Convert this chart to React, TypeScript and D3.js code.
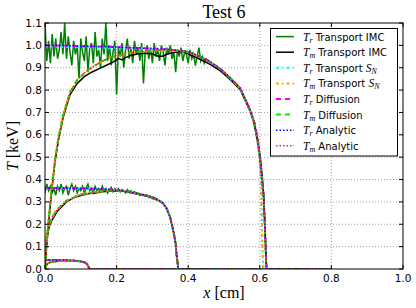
import { useEffect, useRef } from "react"
import * as d3 from "d3"

type Pt = [number, number]

const xTicks = [0, 0.2, 0.4, 0.6, 0.8, 1.0]
const yTicks = [0, 0.1, 0.2, 0.3, 0.4, 0.5, 0.6, 0.7, 0.8, 0.9, 1.0, 1.1]

// analytic / diffusion profiles (x [cm], T [keV])
const trLate: Pt[] = [
  [0, 1.0], [0.05, 0.999], [0.1, 0.997], [0.15, 0.995], [0.2, 0.992], [0.25, 0.989], [0.3, 0.986],
  [0.35, 0.981], [0.4, 0.972], [0.433, 0.949], [0.46, 0.928], [0.49, 0.895], [0.517, 0.855],
  [0.545, 0.81], [0.573, 0.71], [0.585, 0.655], [0.595, 0.575], [0.6, 0.5], [0.605, 0.42],
  [0.61, 0.34], [0.614, 0.2], [0.617, 0.06], [0.619, 0], [0.8, 0],
]
const tmLate: Pt[] = [
  [0, 0], [0.004, 0.1], [0.01, 0.22], [0.018, 0.35], [0.028, 0.49], [0.038, 0.59], [0.051, 0.69],
  [0.07, 0.79], [0.09, 0.845], [0.118, 0.888], [0.15, 0.92], [0.18, 0.945], [0.23, 0.965],
  [0.28, 0.975], [0.32, 0.979], [0.35, 0.98], [0.4, 0.972], [0.433, 0.949], [0.46, 0.928],
  [0.49, 0.895], [0.517, 0.855], [0.545, 0.81], [0.573, 0.71], [0.585, 0.655], [0.595, 0.575],
  [0.6, 0.5], [0.605, 0.42], [0.61, 0.34], [0.614, 0.2], [0.617, 0.06], [0.619, 0], [0.8, 0],
]
const trMid: Pt[] = [
  [0, 0.362], [0.05, 0.362], [0.1, 0.361], [0.15, 0.358], [0.2, 0.353], [0.25, 0.34], [0.293, 0.325],
  [0.31, 0.315], [0.33, 0.294], [0.34, 0.27], [0.349, 0.234], [0.358, 0.174], [0.365, 0.115],
  [0.368, 0.055], [0.371, 0.02], [0.372, 0], [0.8, 0],
]
const tmMid: Pt[] = [
  [0, 0], [0.002, 0.08], [0.005, 0.15], [0.012, 0.2], [0.02, 0.23], [0.033, 0.264], [0.06, 0.305],
  [0.098, 0.333], [0.135, 0.343], [0.17, 0.349], [0.2, 0.352], [0.25, 0.34], [0.293, 0.325],
  [0.31, 0.315], [0.33, 0.294], [0.34, 0.27], [0.349, 0.234], [0.358, 0.174], [0.365, 0.115],
  [0.368, 0.055], [0.371, 0.02], [0.372, 0], [0.8, 0],
]
const trEarly: Pt[] = [
  [0, 0.04], [0.05, 0.04], [0.08, 0.038], [0.1, 0.034], [0.11, 0.03], [0.116, 0.024], [0.12, 0.015],
  [0.124, 0], [0.8, 0],
]
const tmEarly: Pt[] = [
  [0, 0], [0.003, 0.015], [0.008, 0.025], [0.015, 0.03], [0.03, 0.034], [0.05, 0.037], [0.08, 0.037],
  [0.1, 0.034], [0.11, 0.03], [0.116, 0.024], [0.12, 0.015], [0.124, 0], [0.8, 0],
]

// transport S_N, late time (front sits a little earlier)
const snTrLate: Pt[] = [
  [0, 0.996], [0.05, 0.993], [0.1, 0.991], [0.15, 0.99], [0.2, 0.989], [0.25, 0.987], [0.3, 0.984],
  [0.35, 0.98], [0.4, 0.971], [0.433, 0.948], [0.46, 0.927], [0.49, 0.894], [0.517, 0.854],
  [0.545, 0.808], [0.573, 0.708], [0.585, 0.65], [0.595, 0.565], [0.6, 0.48], [0.603, 0.38],
  [0.606, 0.2], [0.608, 0.05], [0.61, 0], [0.8, 0],
]
const snTmLate: Pt[] = [
  [0, 0], [0.004, 0.1], [0.01, 0.22], [0.018, 0.35], [0.028, 0.49], [0.038, 0.59], [0.051, 0.69],
  [0.07, 0.79], [0.09, 0.845], [0.118, 0.888], [0.15, 0.92], [0.18, 0.945], [0.23, 0.964],
  [0.28, 0.973], [0.32, 0.977], [0.35, 0.979], [0.4, 0.971], [0.433, 0.948], [0.46, 0.927],
  [0.49, 0.894], [0.517, 0.854], [0.545, 0.808], [0.573, 0.708], [0.585, 0.65], [0.595, 0.565],
  [0.6, 0.48], [0.603, 0.38], [0.606, 0.2], [0.608, 0.05], [0.61, 0], [0.8, 0],
]

// transport IMC: noisy radiation temperature, one value per 0.005 cm cell
const imcStep = 0.005
const imcTrLateNoisy = [
  1.1, 0.93, 1.02, 0.92, 1.05, 0.95, 1.03, 0.94, 0.98, 1.06, 0.96, 1.1, 0.94, 1.04, 0.97, 0.91,
  1.02, 0.96, 1.0, 0.85, 1.03, 0.97, 0.93, 1.04, 0.88, 0.99, 1.01, 0.92, 1.06, 0.95, 0.98, 0.9,
  1.03, 0.96, 1.1, 0.93, 1.0, 0.91, 0.97, 1.02, 0.78, 0.99, 0.95, 1.01, 0.9, 0.98, 1.03, 0.94,
  0.99, 0.92, 1.02, 0.96, 0.99, 0.93, 1.01, 0.83, 0.97, 1.0, 0.94, 0.99, 0.92, 1.01, 0.95, 0.98,
  0.93, 1.0, 0.97, 0.91, 0.99, 0.96, 1.0, 0.94, 0.97, 0.88, 0.98, 0.95, 0.99, 0.93, 0.97, 0.96,
  0.92, 0.98, 0.94, 0.96, 0.91, 0.95, 0.99, 0.93, 0.95, 0.92,
]
const imcTrLateTail: Pt[] = [
  [0.45, 0.94], [0.46, 0.925], [0.47, 0.915], [0.48, 0.9], [0.49, 0.89], [0.5, 0.878], [0.51, 0.865],
  [0.52, 0.848], [0.53, 0.835], [0.54, 0.818], [0.55, 0.79], [0.56, 0.76], [0.57, 0.725],
  [0.58, 0.68], [0.59, 0.6], [0.6, 0.5], [0.605, 0.42], [0.61, 0.34], [0.614, 0.2], [0.617, 0.06],
  [0.619, 0], [0.8, 0],
]
const imcTmLate: Pt[] = [
  [0, 0], [0.004, 0.09], [0.01, 0.2], [0.018, 0.34], [0.028, 0.48], [0.038, 0.58], [0.051, 0.68],
  [0.07, 0.78], [0.09, 0.83], [0.11, 0.86], [0.13, 0.88], [0.15, 0.895], [0.17, 0.91], [0.19, 0.925],
  [0.2, 0.935], [0.205, 0.942], [0.215, 0.935], [0.225, 0.945], [0.24, 0.955], [0.26, 0.962],
  [0.28, 0.965], [0.3, 0.962], [0.31, 0.955], [0.32, 0.95], [0.33, 0.952], [0.34, 0.96],
  [0.36, 0.968], [0.38, 0.972], [0.39, 0.97], [0.4, 0.962], [0.433, 0.938], [0.46, 0.916],
  [0.49, 0.886], [0.517, 0.848], [0.545, 0.803], [0.573, 0.705], [0.585, 0.645], [0.595, 0.565],
  [0.602, 0.49], [0.607, 0.41], [0.611, 0.33], [0.615, 0.17], [0.619, 0], [0.8, 0],
]
const imcTrMidNoisy = [
  0.34, 0.38, 0.35, 0.37, 0.34, 0.36, 0.33, 0.37, 0.35, 0.38, 0.34, 0.36, 0.37, 0.33, 0.36, 0.38,
  0.35, 0.37, 0.34, 0.36, 0.35, 0.37, 0.34, 0.36, 0.38, 0.35, 0.36, 0.34, 0.37, 0.35, 0.36, 0.345,
  0.37, 0.35, 0.36, 0.34, 0.355, 0.365, 0.345, 0.36, 0.35, 0.36, 0.345, 0.355, 0.35, 0.34, 0.355,
  0.345, 0.35, 0.34, 0.345, 0.335, 0.34, 0.33, 0.335, 0.33, 0.325, 0.33, 0.32, 0.32, 0.315,
]
const imcTrMidTail: Pt[] = [
  [0.31, 0.31], [0.32, 0.304], [0.33, 0.294], [0.34, 0.27], [0.349, 0.234], [0.358, 0.174],
  [0.365, 0.115], [0.368, 0.055], [0.371, 0.02], [0.372, 0], [0.8, 0],
]
const imcTmMid: Pt[] = [
  [0, 0], [0.002, 0.07], [0.005, 0.14], [0.012, 0.19], [0.02, 0.22], [0.035, 0.26], [0.06, 0.3],
  [0.08, 0.318], [0.1, 0.328], [0.12, 0.336], [0.14, 0.34], [0.16, 0.345], [0.18, 0.348], [0.2, 0.35],
  [0.22, 0.348], [0.25, 0.338], [0.293, 0.324], [0.31, 0.314], [0.33, 0.293], [0.34, 0.27],
  [0.349, 0.234], [0.358, 0.174], [0.365, 0.115], [0.368, 0.055], [0.371, 0.02], [0.372, 0], [0.8, 0],
]

const legendSub = ["r", "m", "r", "m", "r", "m", "r", "m"]
const legendText = ["Transport IMC", "Transport IMC", "Transport ", "Transport ", "Diffusion", "Diffusion", "Analytic", "Analytic"]
const legendSN = [false, false, true, true, false, false, false, false]

const styles = [
  { color: "#008000", width: 1.5, dash: null },
  { color: "#000000", width: 1.5, dash: null },
  { color: "#00ffff", width: 2, dash: "3,3,1.5,3" },
  { color: "#ffa500", width: 2, dash: "3,3,1.5,3" },
  { color: "#ff00ff", width: 2, dash: "5,4" },
  { color: "#00ee00", width: 2, dash: "5,4" },
  { color: "#0000ff", width: 1.5, dash: "1.5,2" },
  { color: "#ff2020", width: 1.5, dash: "1.5,2" },
]

const W = 416
const H = 308
const margin = { top: 23, right: 13, bottom: 39, left: 45 }

export default function App() {
  const svgRef = useRef<SVGSVGElement>(null)

  useEffect(() => {
    if (!svgRef.current) return
    const svg = d3.select(svgRef.current)
    svg.selectAll("*").remove()

    const x = d3.scaleLinear().domain([0, 1]).range([margin.left, W - margin.right])
    const y = d3.scaleLinear().domain([0, 1.1]).range([H - margin.bottom, margin.top])
    const [x0, x1] = x.range()
    const [y0, y1] = y.range()

    svg.append("rect").attr("width", W).attr("height", H).attr("fill", "#fff")

    // grid
    const grid = svg.append("g").attr("stroke", "#8a8a8a").attr("stroke-width", 0.8).attr("stroke-dasharray", "1,2")
    xTicks.slice(1, -1).forEach((t) => {
      grid.append("line").attr("x1", x(t)).attr("x2", x(t)).attr("y1", y0).attr("y2", y1)
    })
    yTicks.slice(1, -1).forEach((t) => {
      grid.append("line").attr("x1", x0).attr("x2", x1).attr("y1", y(t)).attr("y2", y(t))
    })

    svg
      .append("clipPath")
      .attr("id", "plotclip")
      .append("rect")
      .attr("x", x0)
      .attr("y", y1)
      .attr("width", x1 - x0)
      .attr("height", y0 - y1)

    const line = d3
      .line<Pt>()
      .x((d) => x(d[0]))
      .y((d) => y(d[1]))

    const noisy = (vals: number[], tail: Pt[]): Pt[] =>
      (vals.map((v, i) => [i * imcStep, v]) as Pt[]).concat(tail)

    const groups: Pt[][][] = [
      [trEarly, tmEarly, trEarly, tmEarly, trEarly, tmEarly, trEarly, tmEarly],
      [noisy(imcTrMidNoisy, imcTrMidTail), imcTmMid, trMid, tmMid, trMid, tmMid, trMid, tmMid],
      [noisy(imcTrLateNoisy, imcTrLateTail), imcTmLate, snTrLate, snTmLate, trLate, tmLate, trLate, tmLate],
    ]

    const plot = svg.append("g").attr("clip-path", "url(#plotclip)")
    groups.forEach((series) => {
      series.forEach((data, i) => {
        const s = styles[i]
        plot
          .append("path")
          .datum(data)
          .attr("fill", "none")
          .attr("stroke", s.color)
          .attr("stroke-width", s.width)
          .attr("stroke-dasharray", s.dash)
          .attr("d", line)
      })
    })

    // frame and ticks (inside, all four sides)
    svg
      .append("rect")
      .attr("x", x0)
      .attr("y", y1)
      .attr("width", x1 - x0)
      .attr("height", y0 - y1)
      .attr("fill", "none")
      .attr("stroke", "#000")
      .attr("stroke-width", 1)

    const ticks = svg.append("g").attr("stroke", "#000").attr("stroke-width", 1)
    xTicks.forEach((t) => {
      ticks.append("line").attr("x1", x(t)).attr("x2", x(t)).attr("y1", y0).attr("y2", y0 - 4)
      ticks.append("line").attr("x1", x(t)).attr("x2", x(t)).attr("y1", y1).attr("y2", y1 + 4)
    })
    yTicks.forEach((t) => {
      ticks.append("line").attr("x1", x0).attr("x2", x0 + 4).attr("y1", y(t)).attr("y2", y(t))
      ticks.append("line").attr("x1", x1).attr("x2", x1 - 4).attr("y1", y(t)).attr("y2", y(t))
    })

    const tickFont = "'DejaVu Sans', sans-serif"
    svg
      .append("g")
      .selectAll("text")
      .data(xTicks)
      .enter()
      .append("text")
      .attr("x", (d) => x(d))
      .attr("y", y0 + 12.5)
      .attr("text-anchor", "middle")
      .attr("font-family", tickFont)
      .attr("font-size", 10.5)
      .text((d) => d.toFixed(1))
    svg
      .append("g")
      .selectAll("text")
      .data(yTicks)
      .enter()
      .append("text")
      .attr("x", x0 - 3)
      .attr("y", (d) => y(d) + 3.5)
      .attr("text-anchor", "end")
      .attr("font-family", tickFont)
      .attr("font-size", 10.5)
      .text((d) => d.toFixed(1))

    const serif = "'Liberation Serif', serif"

    // title
    svg
      .append("text")
      .attr("x", (x0 + x1) / 2)
      .attr("y", 18)
      .attr("text-anchor", "middle")
      .attr("font-family", serif)
      .attr("font-size", 18)
      .text("Test 6")

    // x label
    const xl = svg
      .append("text")
      .attr("x", (x0 + x1) / 2)
      .attr("y", 298)
      .attr("text-anchor", "middle")
      .attr("font-family", serif)
      .attr("font-size", 16)
    xl.append("tspan").attr("font-style", "italic").text("x")
    xl.append("tspan").text(" [cm]")

    // y label
    const yl = svg
      .append("text")
      .attr("transform", `translate(18,${(y0 + y1) / 2}) rotate(-90)`)
      .attr("text-anchor", "middle")
      .attr("font-family", serif)
      .attr("font-size", 16)
    yl.append("tspan").attr("font-style", "italic").text("T")
    yl.append("tspan").text(" [keV]")

    // legend
    const lg = svg.append("g")
    lg.append("rect")
      .attr("x", 270.5)
      .attr("y", 28.5)
      .attr("width", 127)
      .attr("height", 127.5)
      .attr("fill", "#fff")
      .attr("stroke", "#000")
      .attr("stroke-width", 1)

    legendText.forEach((label, i) => {
      const ly = 36.6 + i * 15.6
      const s = styles[i]
      lg.append("line")
        .attr("x1", 276)
        .attr("x2", 294)
        .attr("y1", ly)
        .attr("y2", ly)
        .attr("stroke", s.color)
        .attr("stroke-width", s.width)
        .attr("stroke-dasharray", s.dash)
      const t = lg
        .append("text")
        .attr("x", 303)
        .attr("y", ly + 4)
        .attr("font-family", tickFont)
        .attr("font-size", 10)
      t.append("tspan").attr("font-family", serif).attr("font-style", "italic").attr("font-size", 11.5).text("T")
      t.append("tspan")
        .attr("font-family", serif)
        .attr("font-style", "italic")
        .attr("font-size", 8)
        .attr("dy", 2)
        .text(legendSub[i])
      t.append("tspan").attr("dy", -2).text(" " + label)
      if (legendSN[i]) {
        t.append("tspan").attr("font-family", serif).attr("font-style", "italic").attr("font-size", 11.5).text("S")
        t.append("tspan")
          .attr("font-family", serif)
          .attr("font-style", "italic")
          .attr("font-size", 8)
          .attr("dy", 2)
          .text("N")
      }
    })
  }, [])

  return (
    <div style={{ position: "absolute", left: 0, top: 0 }}>
      <svg ref={svgRef} width={W} height={H} />
    </div>
  )
}
